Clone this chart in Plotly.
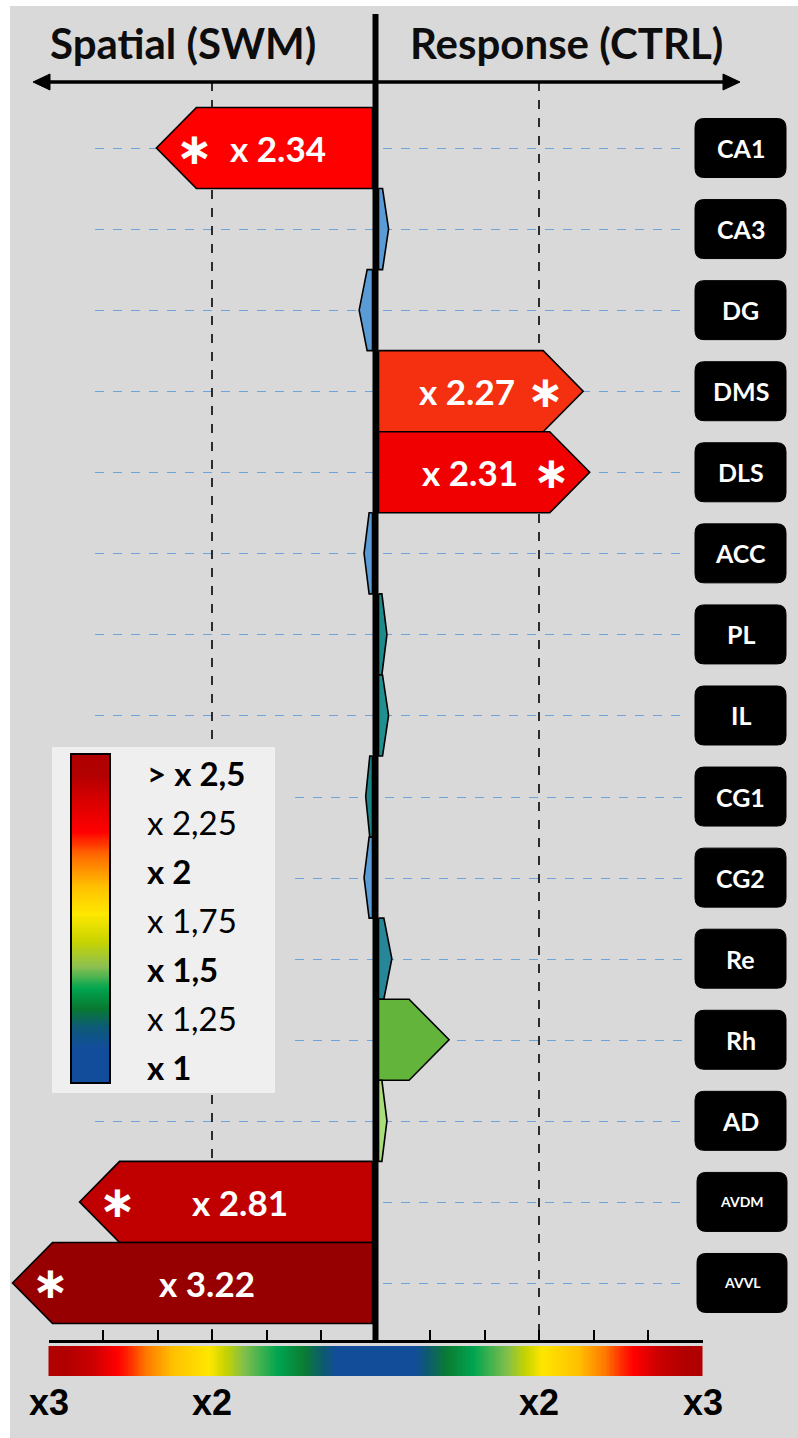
import numpy as np
import plotly.graph_objects as go

# ---------------- data ----------------
regions = ["CA1", "CA3", "DG", "DMS", "DLS", "ACC", "PL", "IL", "CG1", "CG2",
           "Re", "Rh", "AD", "AVDM", "AVVL"]
fold_change = [2.34, 1.08, 1.10, 2.27, 2.31, 1.07, 1.07, 1.08, 1.06, 1.07,
               1.10, 1.45, 1.07, 2.81, 3.22]
direction = ["Spatial", "Response", "Spatial", "Response", "Response", "Spatial",
             "Response", "Response", "Spatial", "Spatial", "Response", "Response",
             "Response", "Spatial", "Spatial"]
significant = [True, False, False, True, True, False, False, False, False, False,
               False, False, False, True, True]
value_labels = ["x 2.34", "", "", "x 2.27", "x 2.31", "", "", "", "", "",
                "", "", "", "x 2.81", "x 3.22"]
legend_labels = ["> x 2,5", "x 2,25", "x 2", "x 1,75", "x 1,5", "x 1,25", "x 1"]
legend_bold = [True, False, True, False, True, False, True]
scale_labels = ["x3", "x2", "x2", "x3"]
scale_label_pos = [-2, -1, 1, 2]
title_left = "Spatial (SWM)"
title_right = "Response (CTRL)"

# ---------------- styles ----------------
bar_colors = ["#ff0000", "#5b9bd5", "#5b9bd5", "#f53010", "#f00000", "#5b9bd5",
              "#1d8a8c", "#1f8f8f", "#1b8385", "#5b9bd5", "#288699", "#62b53a",
              "#a9dc7a", "#c00000", "#960000"]
row_line_start_px = [95, 95, 95, 95, 95, 95, 95, 95, 295, 295, 295, 295, 95, 95, 95]
legend_stops = [(0.918, "#114d9a"), (1.10, "#114d9a"), (1.20, "#0e5a78"),
                (1.30, "#087a30"), (1.40, "#00a550"), (1.51, "#8cc052"),
                (1.64, "#c8d400"), (1.78, "#ffe800"), (1.92, "#ffc000"),
                (2.08, "#ff6a00"), (2.20, "#ff0000"), (2.36, "#d80000"),
                (2.50, "#b00000"), (2.597, "#b00000")]
bottom_stops = [(1.00, "#124d99"), (1.24, "#124d99"), (1.32, "#0c5a70"),
                (1.44, "#0a7d32"), (1.60, "#00a550"), (1.80, "#7fbe4c"),
                (1.92, "#c8d400"), (2.02, "#ffe600"), (2.24, "#ffc000"),
                (2.40, "#ff7a00"), (2.52, "#ff2000"), (2.58, "#ff0000"),
                (2.74, "#c80000"), (2.90, "#b00000"), (3.00, "#b00000")]

FONT = "Lato, 'Open Sans', sans-serif"
W, H = 798, 1438
CX = 375.5      # pixel of fold x1
UNIT = 163.5    # pixels per fold unit
ROW0 = 148.0    # pixel centre of first row
PITCH = 81.07   # row pitch in px
HEAD_PX = 40
GAP_PX = 3


def xd(px):
    return (px - CX) / UNIT


def xp(px):
    return px / W


def yp(py):
    return 1 - py / H


def row_px(i):
    return ROW0 + i * PITCH


def norm_scale(stops):
    lo, hi = stops[0][0], stops[-1][0]
    return [[(f - lo) / (hi - lo), c] for f, c in stops]


def ann(**kw):
    kw.setdefault("xanchor", "center")
    kw.setdefault("yanchor", "middle")
    kw.setdefault("showarrow", False)
    return kw


fig = go.Figure()

# ---------------- bars ----------------
for i, (v, d, c) in enumerate(zip(fold_change, direction, bar_colors)):
    s = -1 if d == "Spatial" else 1
    tip = s * (v - 1)
    start = s * GAP_PX / UNIT
    length = abs(tip - start)
    head = min(HEAD_PX / UNIT, 0.6 * length)
    body = tip - s * head
    fig.add_trace(go.Scatter(
        x=[start, body, tip, body, start, start],
        y=[i - 0.5, i - 0.5, i, i + 0.5, i + 0.5, i - 0.5],
        mode="lines", fill="toself", fillcolor=c,
        line=dict(color="black", width=1.6),
        hoverinfo="skip", showlegend=False, xaxis="x", yaxis="y"))

# ---------------- legend colour bar ----------------
lf = np.linspace(legend_stops[0][0], legend_stops[-1][0], 300)
fig.add_trace(go.Heatmap(
    x=[0, 1], y=lf, z=[[f] for f in lf],
    zmin=legend_stops[0][0], zmax=legend_stops[-1][0],
    colorscale=norm_scale(legend_stops), showscale=False,
    hoverinfo="skip", xaxis="x2", yaxis="y2"))

# ---------------- bottom gradient ----------------
bx = np.linspace(-2, 2, 401)
bz = [[1 + abs(v) for v in bx]]
fig.add_trace(go.Heatmap(
    x=bx, y=[0.5], z=bz, zmin=1, zmax=3,
    colorscale=norm_scale(bottom_stops), showscale=False,
    hoverinfo="skip", xaxis="x3", yaxis="y3"))

shapes = []
annotations = []

# gray background
shapes.append(dict(type="rect", xref="paper", yref="paper", x0=xp(10), x1=1,
                   y0=0, y1=yp(6), fillcolor="#d9d9d9", line=dict(width=0),
                   layer="below"))

# legend box background
shapes.append(dict(type="rect", xref="paper", yref="paper", x0=xp(52), x1=xp(275),
                   y0=yp(1093), y1=yp(747), fillcolor="#efefef",
                   line=dict(width=0), layer="below"))

# row dashed lines
for i, st in enumerate(row_line_start_px):
    shapes.append(dict(type="line", xref="paper", yref="paper", x0=xp(st),
                       x1=xp(684), y0=yp(round(row_px(i)) + 0.5),
                       y1=yp(round(row_px(i)) + 0.5),
                       line=dict(color="#6fa3dc", width=1.2, dash="dash"),
                       layer="below"))

# x2 dashed vertical lines
for xv, segs in [(-1, [(82, 745), (1095, 1340)]), (1, [(82, 1340)])]:
    for a, b in segs:
        shapes.append(dict(type="line", xref="x", yref="paper", x0=xv, x1=xv,
                           y0=yp(a), y1=yp(b),
                           line=dict(color="black", width=1.6, dash="dash"),
                           layer="below"))

# top double arrow
shapes.append(dict(type="line", xref="paper", yref="paper", x0=xp(44), x1=xp(728),
                   y0=yp(82), y1=yp(82), line=dict(color="black", width=3.5)))
for tipx, basex in [(33, 50), (740, 723)]:
    shapes.append(dict(type="path", xref="paper", yref="paper",
                       path=f"M {xp(tipx)} {yp(82)} L {xp(basex)} {yp(74)} "
                            f"L {xp(basex)} {yp(90)} Z",
                       fillcolor="black", line=dict(color="black", width=1)))

# centre axis line
shapes.append(dict(type="line", xref="x", yref="paper", x0=0, x1=0,
                   y0=yp(14), y1=yp(1343), line=dict(color="black", width=6)))

# legend colour bar border
shapes.append(dict(type="rect", xref="paper", yref="paper", x0=xp(71), x1=xp(110),
                   y0=yp(1083), y1=yp(754), line=dict(color="black", width=2),
                   fillcolor="rgba(0,0,0,0)"))

# region label boxes
for i, r in enumerate(regions):
    small = len(r) > 3
    x0p, x1p = (697, 787) if small else (695, 786)
    cy = row_px(i)
    y0p, y1p = cy - 29.5, cy + 29.5
    rad = 9
    X0, X1 = xp(x0p), xp(x1p)
    Yt, Yb = yp(y0p), yp(y1p)
    rx, ry = rad / W, rad / H
    path = (f"M {X0 + rx} {Yt} L {X1 - rx} {Yt} Q {X1} {Yt} {X1} {Yt - ry} "
            f"L {X1} {Yb + ry} Q {X1} {Yb} {X1 - rx} {Yb} "
            f"L {X0 + rx} {Yb} Q {X0} {Yb} {X0} {Yb + ry} "
            f"L {X0} {Yt - ry} Q {X0} {Yt} {X0 + rx} {Yt} Z")
    shapes.append(dict(type="path", xref="paper", yref="paper", path=path,
                       fillcolor="black", line=dict(color="black", width=1),
                       layer="below"))
    annotations.append(ann(xref="paper", yref="y", x=xp((x0p + x1p) / 2), y=i,
                           text=f"<b>{r}</b>",
                           font=dict(color="white", size=14 if small else 25,
                                     family=FONT)))

# bar value labels and asterisks
for i, (v, d, lab, sig) in enumerate(zip(fold_change, direction, value_labels,
                                          significant)):
    if not lab:
        continue
    s = -1 if d == "Spatial" else 1
    tip = s * (v - 1)
    start = s * GAP_PX / UNIT
    body = tip - s * HEAD_PX / UNIT
    mid = (start + body) / 2 + s * 6 / UNIT
    annotations.append(ann(xref="x", yref="y", x=mid, y=i, text=f"<b>{lab}</b>",
                           font=dict(color="white", size=35, family=FONT)))
    if sig:
        annotations.append(ann(xref="x", yref="y", x=body + s * 2 / UNIT, y=i,
                               text="<b>\u2217</b>", yshift=0,
                               font=dict(color="white", size=44,
                                         family="'DejaVu Sans', sans-serif")))

# titles
annotations.append(ann(xref="paper", yref="paper", x=xp(183), y=yp(43),
                       text=f"<b>{title_left}</b>",
                       font=dict(color="#0d0d0d", size=42, family=FONT)))
annotations.append(ann(xref="paper", yref="paper", x=xp(566), y=yp(43),
                       text=f"<b>{title_right}</b>",
                       font=dict(color="#0d0d0d", size=42, family=FONT)))

# legend labels
for k, (lab, b) in enumerate(zip(legend_labels, legend_bold)):
    annotations.append(ann(xref="paper", yref="paper", x=xp(145),
                           y=yp(773 + k * 49), xanchor="left",
                           text=f"<b>{lab}</b>" if b else lab,
                           font=dict(color="black", size=33, family=FONT)))

# bottom scale labels
for lab, pos in zip(scale_labels, scale_label_pos):
    annotations.append(ann(xref="x3", yref="paper", x=pos, y=yp(1402),
                           text=f"<b>{lab}</b>",
                           font=dict(color="black", size=36,
                                     family="'Liberation Sans Narrow', 'Liberation Sans', sans-serif")))

fig.update_layout(
    width=W, height=H, margin=dict(l=0, r=0, t=0, b=0),
    paper_bgcolor="white", plot_bgcolor="rgba(0,0,0,0)",
    showlegend=False, font=dict(family=FONT),
    xaxis=dict(range=[xd(0), xd(W)], domain=[0, 1], visible=False, fixedrange=True),
    yaxis=dict(range=[(H - ROW0) / PITCH, (0 - ROW0) / PITCH], domain=[0, 1],
               visible=False, fixedrange=True),
    xaxis2=dict(domain=[xp(71), xp(110)], range=[0, 1], visible=False, anchor="y2"),
    yaxis2=dict(domain=[yp(1083), yp(754)],
                range=[legend_stops[0][0], legend_stops[-1][0]],
                visible=False, anchor="x2"),
    xaxis3=dict(domain=[xp(CX - 2 * UNIT), xp(CX + 2 * UNIT)], range=[-2, 2],
                anchor="free", position=yp(1341), side="bottom",
                showline=True, linecolor="black", linewidth=3,
                ticks="inside", ticklen=10, tickwidth=2, tickcolor="black",
                tickvals=[k / 3 for k in range(-6, 7)], showticklabels=False,
                showgrid=False, zeroline=False),
    yaxis3=dict(domain=[yp(1376), yp(1346)], range=[0, 1], visible=False,
                anchor="x3"),
    shapes=shapes, annotations=annotations,
)

fig.write_html("out.html", config={"displayModeBar": False},
               post_script="document.body.style.margin='0px';"
                           "document.body.style.overflow='hidden';")
